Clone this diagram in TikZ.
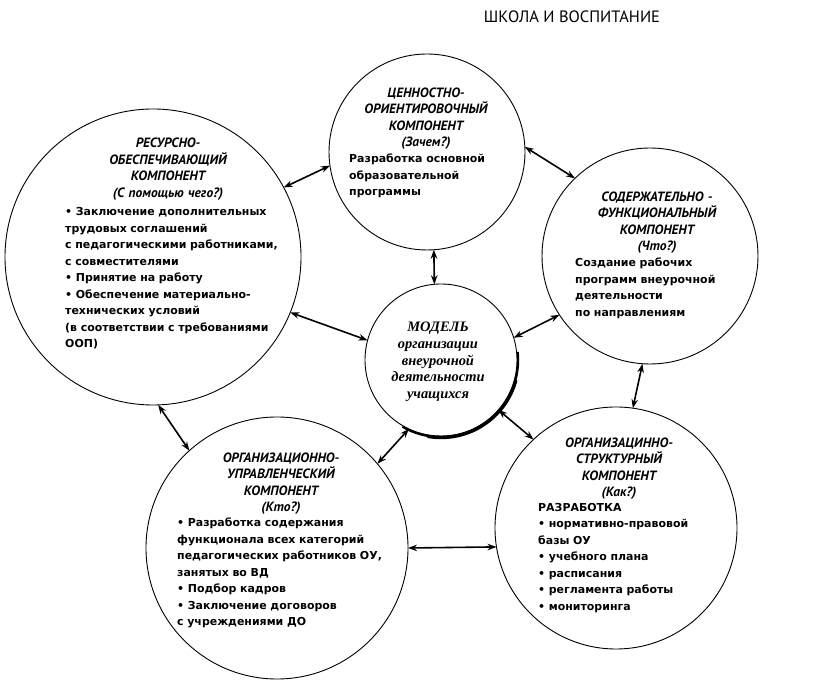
\documentclass[tikz,border=0pt]{standalone}
\usepackage{fontspec}
\setmainfont{PT Sans}
\newfontfamily\modelfont{Liberation Serif}
\newfontfamily\bodyfont{DejaVu Sans}
\usetikzlibrary{arrows.meta}
\begin{document}
\begin{tikzpicture}[x=1bp,y=1bp,
  comp/.style={circle, draw, line width=0.9bp, inner sep=0pt, outer sep=0pt},
  head/.style={anchor=base, inner sep=0pt, text width=230bp, align=center,
    font=\fontsize{13.5}{16.5}\selectfont\bfseries\itshape},
  body/.style={anchor=base west, inner sep=0pt, text width=270bp, align=left,
    font=\fontsize{11}{16.5}\selectfont\bodyfont\bfseries},
  modeltext/.style={anchor=base, inner sep=0pt, text width=150bp, align=center,
    font=\fontsize{14.5}{16.7}\selectfont\modelfont\bfseries\itshape},
  link/.style={{Stealth[length=9bp,width=6.5bp]}-{Stealth[length=9bp,width=6.5bp]}, line width=1.6bp},
]
\useasboundingbox (0,0) rectangle (817,699);

% header
\node[anchor=base, inner sep=0pt, font=\fontsize{16.5}{18}\selectfont] (hdr) at (572,676) {ШКОЛА И ВОСПИТАНИЕ};

% circles
\node[comp, minimum size=196bp] (val) at (427,547) {};
\node[comp, minimum size=296bp] (res) at (153,442) {};
\node[comp, minimum size=216bp] (con) at (650,443) {};
\node[comp, minimum size=152bp] (mod) at (441,339) {};
\node[comp, minimum size=262bp] (org) at (277,151) {};
\node[comp, minimum size=242bp] (str) at (616,171) {};

% shadow arc on the model circle
\draw[line width=2.2bp] ([shift={(6:77.1)}]mod.center) arc[start angle=6, end angle=-120, radius=77.1];
\draw[line width=3.2bp] ([shift={(-15:77.6)}]mod.center) arc[start angle=-15, end angle=-100, radius=77.6];

% texts
\node[head] (valh) at (426,601.5) {ЦЕННОСТНО-\\ОРИЕНТИРОВОЧНЫЙ\\КОМПОНЕНТ\\(Зачем?)};
\node[body] (valb) at (349,536) {Разработка основной\\образовательной\\программы};

\node[head] (resh) at (168,551) {РЕСУРСНО-\\ОБЕСПЕЧИВАЮЩИЙ\\КОМПОНЕНТ\\(С помощью чего?)};
\node[body] (resb) at (65,483) {• Заключение дополнительных\\трудовых соглашений\\с педагогическими работниками,\\с совместителями\\• Принятие на работу\\• Обеспечение материально-\\технических условий\\(в соответствии с требованиями\\ООП)};

\node[head] (conh) at (657,497.5) {СОДЕРЖАТЕЛЬНО -\\ФУНКЦИОНАЛЬНЫЙ\\КОМПОНЕНТ\\(Что?)};
\node[body] (conb) at (575,432) {Создание рабочих\\программ внеурочной\\деятельности\\по направлениям};

\node[modeltext] (modt) at (438,367) {МОДЕЛЬ\\организации\\внеурочной\\деятельности\\учащихся};

\node[head] (orgh) at (281,236.5) {ОРГАНИЗАЦИОННО-\\УПРАВЛЕНЧЕСКИЙ\\КОМПОНЕНТ\\(Кто?)};
\node[body] (orgb) at (177,172) {• Разработка содержания\\функционала всех категорий\\педагогических работников ОУ,\\занятых во ВД\\• Подбор кадров\\• Заключение договоров\\с учреждениями ДО};

\node[head] (strh) at (619,251.5) {ОРГАНИЗАЦИННО-\\СТРУКТУРНЫЙ\\КОМПОНЕНТ\\(Как?)};
\node[body] (strb) at (538,187.5) {РАЗРАБОТКА\\• нормативно-правовой\\базы ОУ\\• учебного плана\\• расписания\\• регламента работы\\• мониторинга};

% connectors
\draw[link] (res.28) -- (val.188);
\draw[link] (val.3) -- (con.134);
\draw[link] (val.274) -- (mod.95);
\draw[link] (res.-22) -- (mod.165);
\draw[link] (mod.17) -- (con.213);
\draw[link] (con.266) -- (str.82);
\draw[link] (mod.-41) -- (str.133);
\draw[link] (mod.245) -- (org.40);
\draw[link] (res.272) -- (org.132);
\draw[link] (org.0) -- (str.189);
\end{tikzpicture}
\end{document}
